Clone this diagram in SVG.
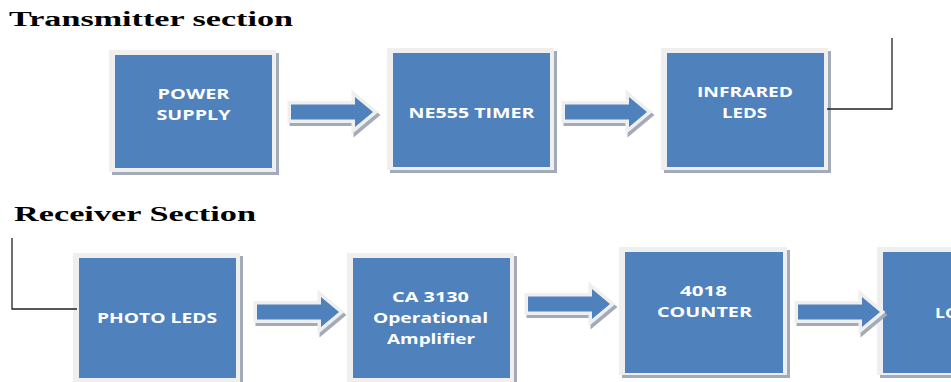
<svg xmlns="http://www.w3.org/2000/svg" xmlns:xlink="http://www.w3.org/1999/xlink" width="951" height="382" viewBox="0 0 951 382">
<style>
.bg{fill:#ffffff}
.shadow{fill:#a3abb8}
.frame{fill:#efefef}
.blue{fill:#4F81BD}
.lbl{font-family:"Open Sans","DejaVu Sans",sans-serif;font-weight:bold;font-size:15px;fill:#ffffff}
.head{font-family:"Liberation Serif","Times New Roman",serif;font-weight:bold;font-size:20px;fill:#000000}
.wire{fill:none;stroke:#222222;stroke-width:1.3}
.ashadow{fill:#a3abb8;stroke:#a3abb8;stroke-width:7;stroke-linejoin:miter}
.aframe{fill:#4F81BD;stroke:#efefef;stroke-width:7;stroke-linejoin:miter;paint-order:stroke}
</style>
<defs>
<polygon id="arr" points="0,-7.5 64,-7.5 64,-15 82,0 64,15 64,7.5 0,7.5"/>
</defs>
<rect class="bg" x="0" y="0" width="951" height="382"/>
<text class="head" x="9" y="26" textLength="284" lengthAdjust="spacingAndGlyphs">Transmitter section</text>
<text class="head" x="14" y="221" textLength="242" lengthAdjust="spacingAndGlyphs">Receiver Section</text>

<g id="power-supply">
<rect class="shadow" x="112" y="53" width="167" height="122"/>
<rect class="frame" x="109" y="50" width="167" height="122"/>
<rect class="blue" x="115" y="55" width="157" height="113"/>
<text class="lbl" x="193.5" y="99" text-anchor="middle" textLength="72" lengthAdjust="spacingAndGlyphs">POWER</text>
<text class="lbl" x="193.5" y="120" text-anchor="middle" textLength="74" lengthAdjust="spacingAndGlyphs">SUPPLY</text>
</g>

<g id="ne555-timer">
<rect class="shadow" x="390" y="51" width="167" height="122"/>
<rect class="frame" x="387" y="48" width="167" height="122"/>
<rect class="blue" x="393" y="53" width="157" height="114"/>
<text class="lbl" x="471.5" y="118" text-anchor="middle" textLength="126" lengthAdjust="spacingAndGlyphs">NE555 TIMER</text>
</g>

<g id="infrared-leds">
<rect class="shadow" x="664" y="51" width="167" height="122"/>
<rect class="frame" x="661" y="48" width="167" height="122"/>
<rect class="blue" x="667" y="53" width="157" height="114"/>
<text class="lbl" x="745" y="97" text-anchor="middle" textLength="96" lengthAdjust="spacingAndGlyphs">INFRARED</text>
<text class="lbl" x="744.5" y="118" text-anchor="middle" textLength="45" lengthAdjust="spacingAndGlyphs">LEDS</text>
</g>

<g id="photo-leds">
<rect class="shadow" x="76" y="256" width="167" height="130"/>
<rect class="frame" x="73" y="253" width="167" height="130"/>
<rect class="blue" x="79" y="258" width="157" height="120"/>
<text class="lbl" x="157" y="323" text-anchor="middle" textLength="120" lengthAdjust="spacingAndGlyphs">PHOTO LEDS</text>
</g>

<g id="ca3130">
<rect class="shadow" x="350" y="256" width="167" height="130"/>
<rect class="frame" x="347" y="253" width="167" height="130"/>
<rect class="blue" x="353" y="258" width="157" height="120"/>
<text class="lbl" x="430.5" y="302" text-anchor="middle" textLength="77" lengthAdjust="spacingAndGlyphs">CA 3130</text>
<text class="lbl" x="430.5" y="323" text-anchor="middle" textLength="115" lengthAdjust="spacingAndGlyphs">Operational</text>
<text class="lbl" x="431" y="344" text-anchor="middle" textLength="88" lengthAdjust="spacingAndGlyphs">Amplifier</text>
</g>

<g id="counter-4018">
<rect class="shadow" x="622" y="250" width="168" height="128"/>
<rect class="frame" x="619" y="247" width="168" height="128"/>
<rect class="blue" x="625" y="252" width="158" height="121"/>
<text class="lbl" x="703.5" y="296" text-anchor="middle" textLength="47" lengthAdjust="spacingAndGlyphs">4018</text>
<text class="lbl" x="704.5" y="317" text-anchor="middle" textLength="95" lengthAdjust="spacingAndGlyphs">COUNTER</text>
</g>

<g id="box-lo">
<rect class="shadow" x="880" y="250" width="80" height="128"/>
<rect class="frame" x="877" y="247" width="80" height="128"/>
<rect class="blue" x="883" y="252" width="80" height="121"/>
<text class="lbl" x="935" y="318" textLength="24" lengthAdjust="spacingAndGlyphs">LO</text>
</g>

<g id="connectors">
<use xlink:href="#arr" class="ashadow" transform="translate(293,115)"/>
<use xlink:href="#arr" class="aframe" transform="translate(291,112)"/>
<use xlink:href="#arr" class="ashadow" transform="translate(567,115)"/>
<use xlink:href="#arr" class="aframe" transform="translate(565,112)"/>
<use xlink:href="#arr" class="ashadow" transform="translate(259,315)"/>
<use xlink:href="#arr" class="aframe" transform="translate(257,312)"/>
<use xlink:href="#arr" class="ashadow" transform="translate(530,307)"/>
<use xlink:href="#arr" class="aframe" transform="translate(528,304)"/>
<use xlink:href="#arr" class="ashadow" transform="translate(800,315)"/>
<use xlink:href="#arr" class="aframe" transform="translate(798,312)"/>
<polyline class="wire" points="827,109 892,109 892,38"/>
<polyline class="wire" points="12,238 12,309 77,309"/>
</g>
</svg>
